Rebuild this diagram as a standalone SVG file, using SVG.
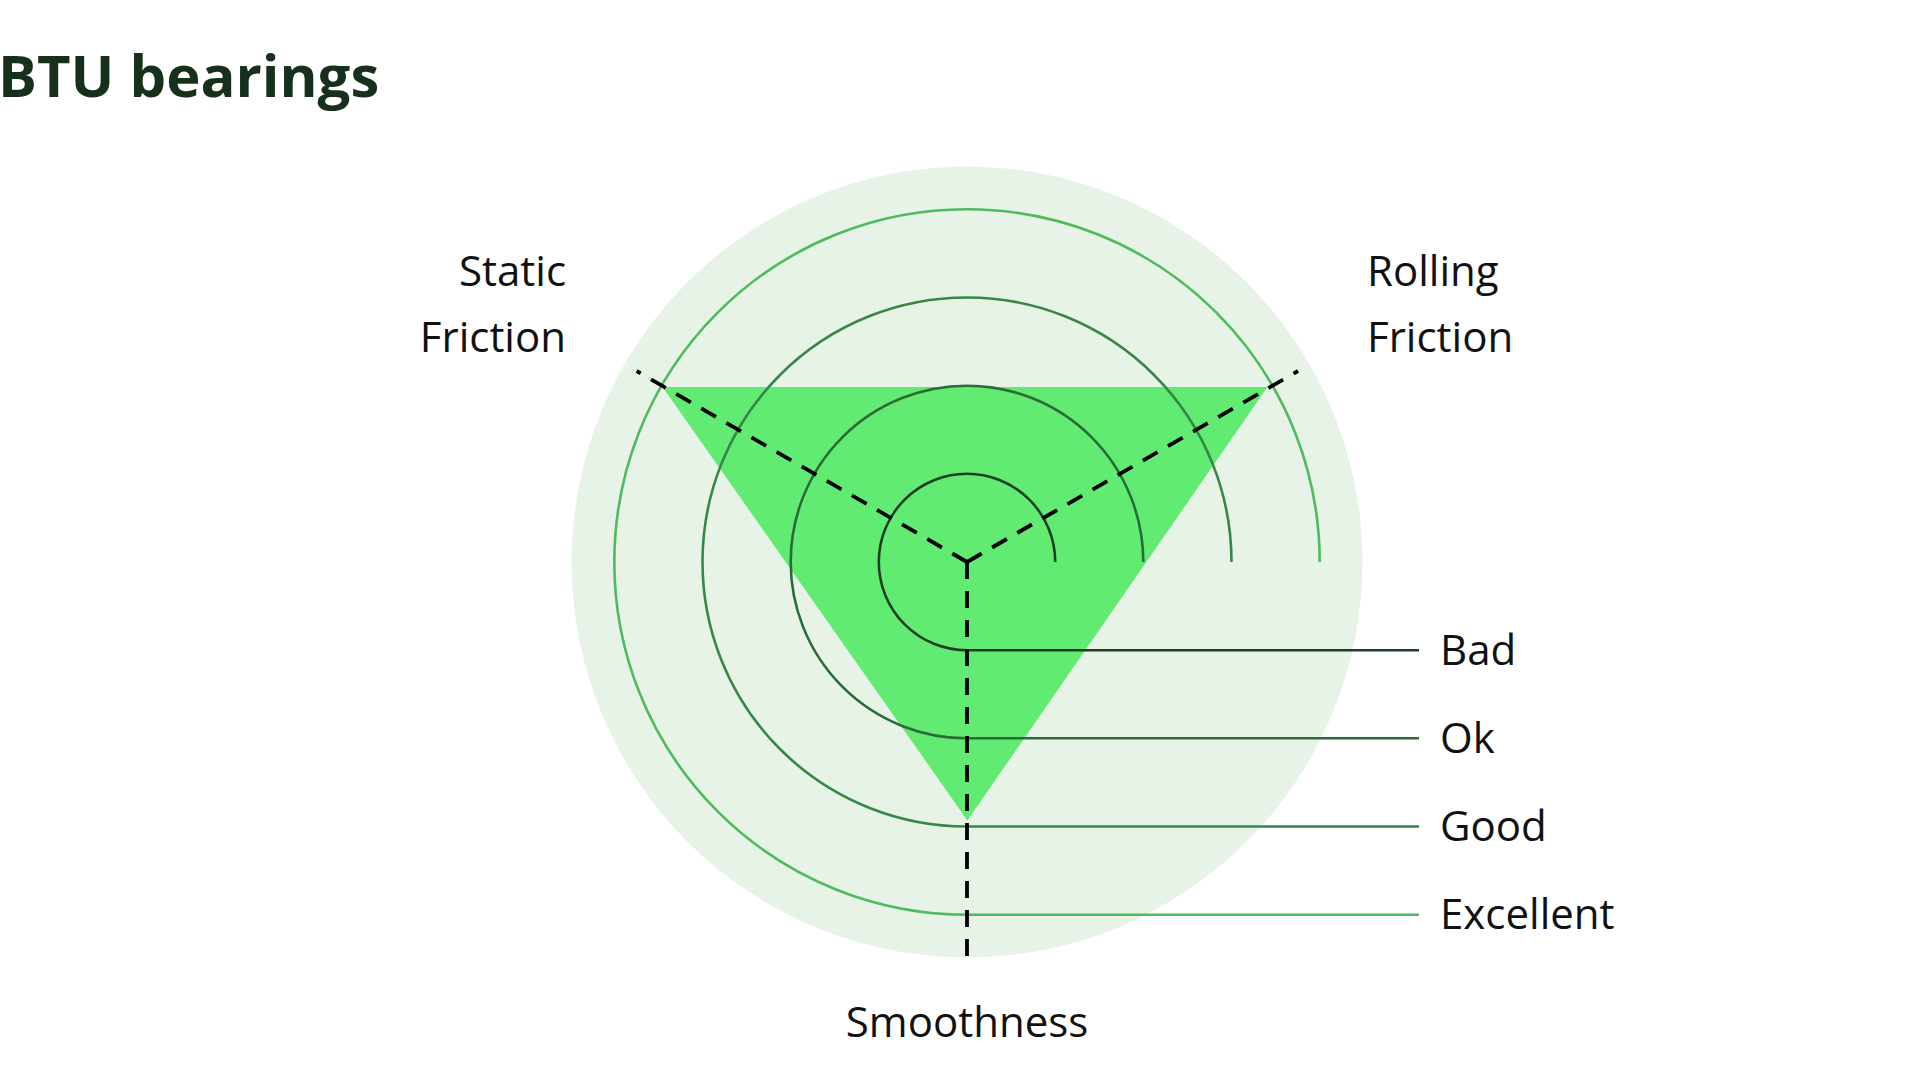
<svg xmlns="http://www.w3.org/2000/svg" width="1920" height="1080" viewBox="0 0 1920 1080">
<style>
text{font-family:"Open Sans","Noto Sans",sans-serif;font-size:42px;fill:#111}
.arc{fill:none;stroke-width:2.6}
.dash{stroke:#000;stroke-width:3.8;stroke-dasharray:17 12;fill:none}
</style>
<rect width="1920" height="1080" fill="#fff"/>
<text x="-2" y="97" style="font-size:58px;font-weight:bold;fill:#16301c">BTU bearings</text>
<g id="background"><circle cx="967" cy="562" r="395.5" fill="#e8f3e8"/></g>
<g id="triangle"><polygon points="662.5,387 1267.4,387 967.4,820.4" fill="#62eb72"/></g>
<g id="scale">
<g id="bad"><path class="arc" stroke="#1e3f26" d="M1055.2 562 A88.2 88.2 0 1 0 967 650.2 H1419"/><text x="1440" y="665">Bad</text></g>
<g id="ok"><path class="arc" stroke="#2b6b38" d="M1143.3 562 A176.3 176.3 0 1 0 967 738.3 H1419"/><text x="1440" y="753">Ok</text></g>
<g id="good"><path class="arc" stroke="#35884a" d="M1231.5 562 A264.5 264.5 0 1 0 967 826.5 H1419"/><text x="1440" y="841">Good</text></g>
<g id="excellent"><path class="arc" stroke="#4dbb5e" d="M1319.7 562 A352.7 352.7 0 1 0 967 914.7 H1419"/><text x="1440" y="929">Excellent</text></g>
</g>
<g id="connectors">
<path class="dash" d="M967 562 L636.7 371"/>
<path class="dash" d="M967 562 L1298 371"/>
<path class="dash" d="M967 562 L967 959"/>
</g>
<g id="static"><text x="566" y="286" text-anchor="end">Static</text><text x="566" y="352" text-anchor="end">Friction</text></g>
<g id="rolling"><text x="1367" y="286">Rolling</text><text x="1367" y="352">Friction</text></g>
<g id="smoothness"><text x="967" y="1037" text-anchor="middle">Smoothness</text></g>
</svg>
